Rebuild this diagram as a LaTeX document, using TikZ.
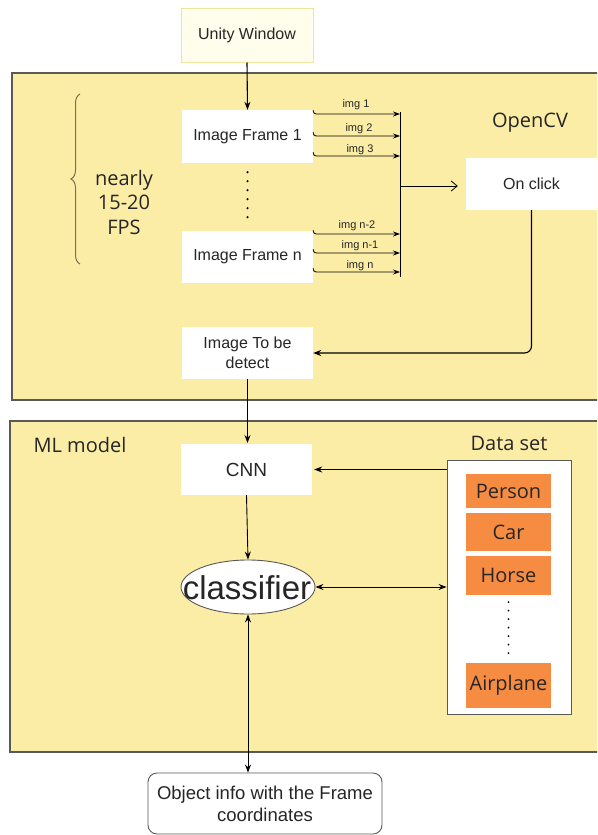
\documentclass[tikz,border=0pt]{standalone}
\usepackage{fontspec}
\usepackage{graphicx}
\setmainfont{Liberation Sans}
\newfontfamily\osans{Open Sans}
\usetikzlibrary{arrows.meta,shapes.geometric,decorations.pathreplacing,calc}
\definecolor{panel}{HTML}{FCEDA6}
\definecolor{panelline}{HTML}{5A5A55}
\definecolor{unityfill}{HTML}{FFFDEB}
\definecolor{unityline}{HTML}{EDE59E}
\definecolor{orangebox}{HTML}{F68C42}
\definecolor{txt}{HTML}{262626}
\definecolor{bracec}{HTML}{7D6E52}
\tikzset{
  whitebox/.style={rectangle, fill=white, inner sep=2pt, align=center, text=txt,
    font=\fontsize{16}{20}\selectfont},
  classbox/.style={rectangle, fill=orangebox, inner sep=0pt, text=txt,
    minimum width=85, font=\osans\fontsize{20}{22}\selectfont},
  arr/.style={draw=black, line width=1.1pt, -{Stealth[length=8pt,width=6pt]}},
  darr/.style={draw=black, line width=0.9pt, {Stealth[length=8pt,width=6pt]}-{Stealth[length=8pt,width=6pt]}},
  thinarr/.style={draw=black, line width=0.8pt, rounded corners=3, -{Stealth[length=7pt,width=5pt]}},
  openarr/.style={draw=black, line width=0.8pt, -{Straight Barb[length=6pt,width=10pt]}},
  imglabel/.style={font=\fontsize{11}{12}\selectfont, text=txt, inner sep=1pt},
  paneltitle/.style={font=\osans\fontsize{20}{22}\selectfont, text=txt},
  dotline/.style={draw=black, line width=2.4pt, line cap=round, dash pattern=on 0pt off 9pt},
}
\begin{document}
\begin{tikzpicture}[x=1pt,y=-1pt]
\useasboundingbox (0,0) rectangle (597,835);
\clip (0,0) rectangle (597,835);
\fill[white] (0,0) rectangle (597,835);

% panels
\draw[fill=panel, draw=panelline, line width=1.2pt] (12,73) rectangle (620,400);
\draw[fill=panel, draw=panelline, line width=1.2pt] (10,421) rectangle (620,752);

% top box
\node[whitebox, fill=unityfill, draw=unityline, line width=1pt, minimum width=132, minimum height=54] (unity) at (247,35) {Unity Window};

% OpenCV panel
\node[paneltitle] (opencv) at (530,123) {OpenCV};
\node[whitebox, minimum width=131, minimum height=53] (f1) at (247.5,136.5) {Image Frame 1};
\node[whitebox, minimum width=131, minimum height=52] (fn) at (247.5,257) {Image Frame n};
\node[whitebox, minimum width=131, minimum height=52] (onclick) at (531.5,184) {On click};
\node[whitebox, minimum width=131, minimum height=52] (detect) at (247.5,353) {Image To be\\detect};

\draw[decorate, decoration={brace, amplitude=9pt}, draw=bracec, line width=1pt] (80,264) -- (80,94);
\node[font=\osans\fontsize{20}{24.5}\selectfont, text=txt, align=center] (fps) at (124,202) {nearly\\15-20\\FPS};

\draw[dotline] ([yshift=-9pt]f1.south) -- ([yshift=6pt]fn.north);

% bus
\coordinate (bustop) at (400,112);
\coordinate (busbot) at (400,277);
\draw[black, line width=0.9pt] (bustop) -- (busbot);
\coordinate (b1) at (400,114);
\coordinate (b2) at (400,136);
\coordinate (b3) at (400,156);
\coordinate (b4) at (400,234);
\coordinate (b5) at (400,253);
\coordinate (b6) at (400,272);
\coordinate (bm) at (400,186);

\draw[thinarr] (f1.north east |- 0,110) |- (b1);
\draw[thinarr] (f1.north east |- 0,132) |- (b2);
\draw[thinarr] (f1.north east |- 0,152) |- (b3);
\draw[thinarr] (fn.north east |- 0,230) |- (b4);
\draw[thinarr] (fn.north east |- 0,249) |- (b5);
\draw[thinarr] (fn.north east |- 0,268) |- (b6);
\node[imglabel] (l1) at (356,105) {img 1};
\node[imglabel] (l2) at (359,129) {img 2};
\node[imglabel] (l3) at (360,150) {img 3};
\node[imglabel] (l4) at (357,226) {img n-2};
\node[imglabel] (l5) at (360,246) {img n-1};
\node[imglabel] (l6) at (360,266) {img n};

\draw[openarr] (bm) -- ([xshift=-8pt]onclick.west |- bm);

\draw[arr] (unity.south) -- (f1.north);
\draw[arr, rounded corners=7] (onclick.south) |- (detect.east);
\draw[arr] (detect.south) -- (detect.south |- 0,443);

% ML model panel
\node[font=\osans\fontsize{20}{22}\selectfont, text=txt] (ml) at (80,445) {ML model};
\node[paneltitle] (dstitle) at (509,443) {Data set};
\node[whitebox, minimum width=131, minimum height=51, font=\fontsize{19}{20}\selectfont] (cnn) at (246.5,469.5) {CNN};
\node[rectangle, fill=white, draw=panelline, line width=0.9pt, minimum width=124, minimum height=254] (dataset) at (509,587) {};
\node[classbox, minimum height=34] (person) at (508.5,491) {Person};
\node[classbox, minimum height=38] (car) at (508.5,532) {Car};
\node[classbox, minimum height=39] (horse) at (508.5,575.5) {Horse};
\node[classbox, minimum height=45] (airplane) at (508.5,685.5) {Airplane};
\draw[draw=black, line width=2pt, line cap=round, dash pattern=on 0pt off 8.5pt] ([yshift=-7pt]horse.south) -- ([yshift=5pt]airplane.north);

\node[ellipse, fill=white, draw=panelline, line width=0.9pt, minimum width=134, minimum height=54, inner sep=0pt] (clf) at (248,587) {};
\node[text=txt, font=\fontsize{33}{36}\selectfont, inner sep=0pt] (clftext) at (247,588) {classifier};

\draw[arr, line width=0.9pt] (dataset.west |- cnn.east) -- ([xshift=2pt]cnn.east);
\draw[arr, line width=0.9pt] (cnn.south) -- (clf.north);
\draw[darr] (clf.east) -- (dataset.west |- clf.east);

% bottom
\node[rectangle, rounded corners=9, fill=white, draw=panelline, line width=0.9pt, minimum width=234, minimum height=61, align=center, text=txt, font=\fontsize{18.5}{22}\selectfont] (obj) at (265,803.5) {Object info with the Frame\\coordinates};
\draw[darr] (clf.south) -- (clf.south |- obj.north);
\end{tikzpicture}
\end{document}
